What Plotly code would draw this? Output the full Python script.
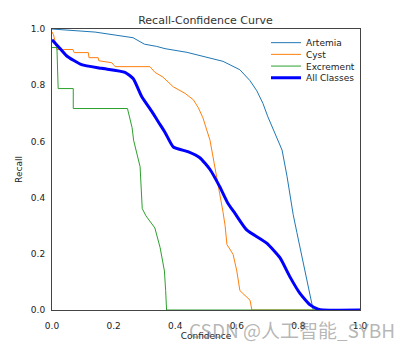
import plotly.graph_objects as go

# ---- data ----
artemia_x = [0.0, 0.05, 0.14, 0.263, 0.30, 0.34, 0.367, 0.438, 0.503, 0.555, 0.61, 0.643, 0.665, 0.685, 0.70, 0.72, 0.747, 0.763, 0.773, 0.783, 0.795, 0.821, 0.835, 0.848, 1.0]
artemia_y = [1.0, 0.997, 0.989, 0.969, 0.946, 0.938, 0.93, 0.917, 0.899, 0.885, 0.855, 0.816, 0.78, 0.735, 0.69, 0.64, 0.569, 0.476, 0.40, 0.34, 0.276, 0.139, 0.069, 0.0, 0.0]

cyst_x = [0.0, 0.005, 0.01, 0.016, 0.068, 0.072, 0.118, 0.12, 0.15, 0.152, 0.194, 0.205, 0.318, 0.334, 0.36, 0.394, 0.432, 0.459, 0.475, 0.49, 0.513, 0.529, 0.545, 0.555, 0.562, 0.568, 0.588, 0.60, 0.61, 0.643, 0.649, 1.0]
cyst_y = [0.99, 0.979, 0.956, 0.927, 0.927, 0.916, 0.916, 0.898, 0.898, 0.887, 0.88, 0.866, 0.866, 0.846, 0.829, 0.794, 0.771, 0.748, 0.72, 0.684, 0.604, 0.51, 0.417, 0.35, 0.30, 0.233, 0.198, 0.139, 0.069, 0.035, 0.0, 0.0]

excr_x = [0.0, 0.016, 0.02, 0.069, 0.069, 0.245, 0.26, 0.265, 0.286, 0.291, 0.293, 0.305, 0.334, 0.351, 0.365, 0.369, 0.372, 1.0]
excr_y = [0.934, 0.934, 0.788, 0.788, 0.717, 0.717, 0.649, 0.604, 0.51, 0.43, 0.361, 0.335, 0.292, 0.222, 0.139, 0.069, 0.0, 0.0]

all_x = [0.0, 0.02, 0.048, 0.096, 0.161, 0.237, 0.264, 0.291, 0.324, 0.345, 0.367, 0.394, 0.443, 0.48, 0.513, 0.545, 0.571, 0.594, 0.632, 0.697, 0.74, 0.773, 0.805, 0.838, 0.864, 0.88, 1.0]
all_y = [0.962, 0.938, 0.904, 0.873, 0.86, 0.846, 0.823, 0.76, 0.707, 0.67, 0.632, 0.58, 0.563, 0.542, 0.5, 0.438, 0.38, 0.344, 0.285, 0.238, 0.186, 0.117, 0.059, 0.018, 0.003, 0.0, 0.0]

series_names = ["Artemia", "Cyst", "Excrement", "All Classes"]
tick_vals = [0.0, 0.2, 0.4, 0.6, 0.8, 1.0]
tick_text = ["0.0", "0.2", "0.4", "0.6", "0.8", "1.0"]

FONT = "DejaVu Sans"
W, H = 411, 351
L, R, T, B = 52, 51, 29, 34
PH = H - T - B

fig = go.Figure()
fig.add_trace(go.Scatter(x=artemia_x, y=artemia_y, mode="lines", name=series_names[0],
                         line=dict(color="#1f77b4", width=1), legend="legend"))
fig.add_trace(go.Scatter(x=cyst_x, y=cyst_y, mode="lines", name=series_names[1],
                         line=dict(color="#ff7f0e", width=1), legend="legend2"))
fig.add_trace(go.Scatter(x=excr_x, y=excr_y, mode="lines", name=series_names[2],
                         line=dict(color="#2ca02c", width=1), legend="legend3"))
fig.add_trace(go.Scatter(x=all_x, y=all_y, mode="lines", name=series_names[3],
                         line=dict(color="#0000ff", width=3, shape="spline", smoothing=0.5),
                         legend="legend4"))

axis_common = dict(range=[0, 1], tickvals=tick_vals, ticktext=tick_text,
                   showgrid=False, zeroline=False, showline=True, mirror=True,
                   linecolor="#444444", linewidth=1, ticks="outside",
                   tickcolor="rgba(0,0,0,0)", tickfont=dict(family=FONT, size=9, color="#222"))

def legend_at(py):
    yp = (H - B - py) / PH
    return dict(x=(266 - L) / (W - L - R), y=yp, xanchor="left", yanchor="middle",
                bgcolor="rgba(0,0,0,0)", borderwidth=0, itemwidth=30,
                font=dict(family=FONT, size=9, color="#222"))

fig.update_layout(
    width=W, height=H,
    margin=dict(l=L, r=R, t=T, b=B),
    paper_bgcolor="white", plot_bgcolor="white",
    font=dict(family=FONT, color="#222"),
    title=dict(text="Recall-Confidence Curve", x=0.5, xanchor="center",
               y=1 - 20 / H, yanchor="middle", font=dict(family=FONT, size=11, color="#333")),
    xaxis=dict(**axis_common, ticklen=7,
               title=dict(text="Confidence", standoff=2,
                          font=dict(family=FONT, size=9, color="#222"))),
    yaxis=dict(**axis_common, ticklen=4,
               title=dict(text="Recall", standoff=6,
                          font=dict(family=FONT, size=9, color="#222"))),
    legend=legend_at(43),
    legend2=legend_at(55),
    legend3=legend_at(67),
    legend4=legend_at(79),
    showlegend=True,
)

fig.add_annotation(text="CSDN @人工智能_SYBH", xref="paper", yref="paper",
                   x=1.0, y=-20 / PH, xanchor="center", yanchor="middle",
                   xshift=-(360 - 292), showarrow=False,
                   font=dict(family="Noto Sans CJK SC", size=19, color="rgba(120,120,120,0.55)"))

fig.write_html("out.html")
